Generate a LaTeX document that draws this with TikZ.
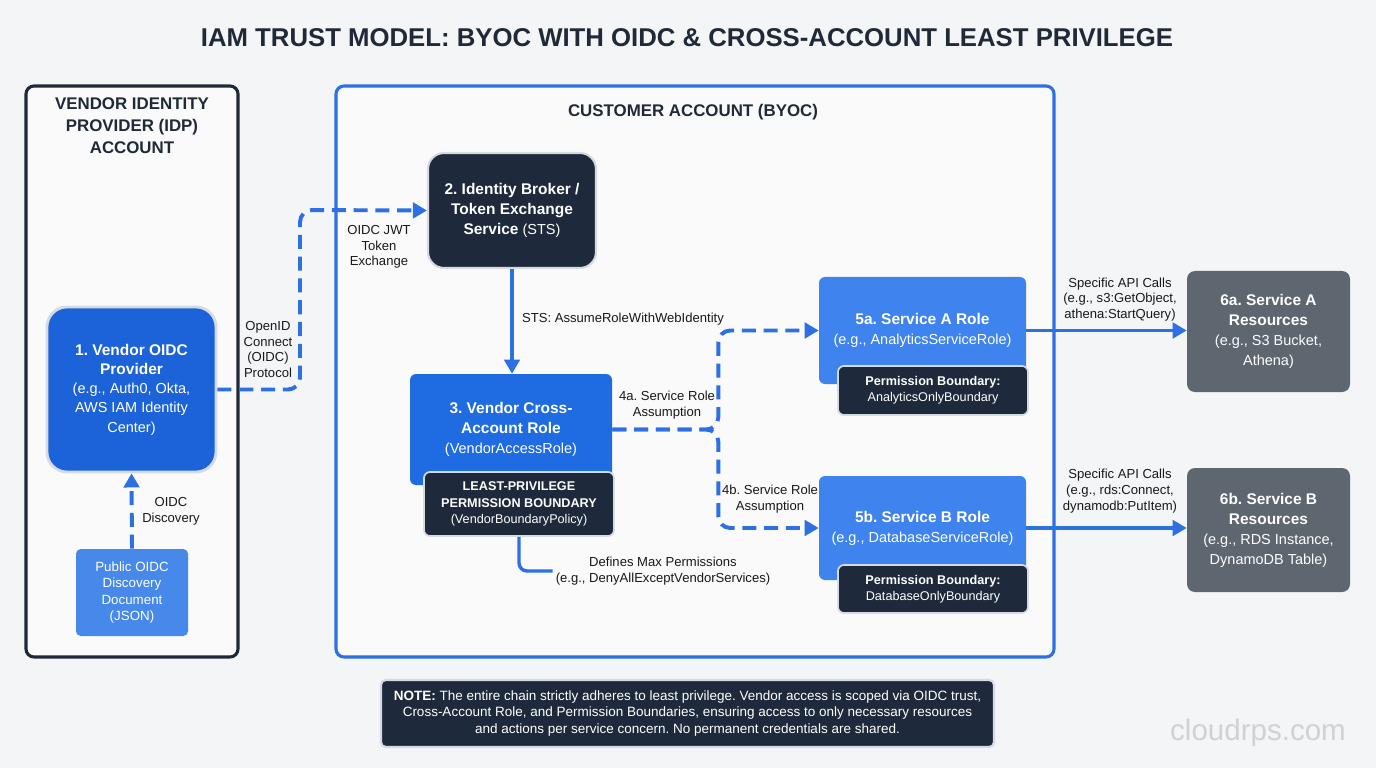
\documentclass[tikz,border=0pt]{standalone}
\usepackage{fontspec}
\setmainfont{Liberation Sans}
\usetikzlibrary{shapes, arrows.meta, calc, positioning}
\definecolor{bgGray}{HTML}{F3F5F7}
\definecolor{idpBlue}{HTML}{1C62D8}
\definecolor{roleBlue}{HTML}{1F6BE2}
\definecolor{svcBlue}{HTML}{3F84EE}
\definecolor{docBlue}{HTML}{4689EA}
\definecolor{navy}{HTML}{1E293B}
\definecolor{resGray}{HTML}{5E6670}
\definecolor{flowBlue}{HTML}{2C70E4}
\definecolor{edgeGray}{HTML}{D5DBE3}
\definecolor{inkDark}{HTML}{1F2937}
\frenchspacing
\newcommand{\pxu}{0.025cm}% one pixel of the layout
\newcommand{\hd}[1]{{\bfseries\fontsize{11}{13.7}\selectfont #1}}
\tikzset{
    >={Triangle[length=10pt,width=11pt]},
    wh/.style 2 args = {minimum width=#1*\pxu, minimum height=#2*\pxu},
    acct/.style = {draw, line width=2.2pt, rounded corners=0.2cm, fill=white!55!bgGray}, % account frames
    head/.style = {font=\bfseries\fontsize{12}{15.6}\selectfont, text=inkDark, align=center},
    box/.style = {inner sep=0pt, align=center, text=white, font=\fontsize{10.3}{13.7}\selectfont},
    idpnode/.style = {box, fill=idpBlue, draw=edgeGray, line width=2pt, rounded corners=0.5cm},
    broker/.style = {box, fill=navy, draw=edgeGray, line width=1.5pt, rounded corners=0.4cm,
                     font=\fontsize{10.3}{14.5}\selectfont},
    role/.style = {box, fill=roleBlue, rounded corners=0.15cm, font=\fontsize{10.3}{14.2}\selectfont},
    svc/.style = {box, fill=svcBlue, rounded corners=0.15cm, font=\fontsize{10.3}{14.2}\selectfont},
    bnd/.style = {box, fill=navy, draw=edgeGray, line width=1.2pt, rounded corners=0.15cm,
                  font=\fontsize{9}{11.6}\selectfont},
    res/.style = {box, fill=resGray, rounded corners=0.2cm, font=\fontsize{10.3}{14.2}\selectfont},
    docnode/.style = {box, fill=docBlue, rounded corners=0.12cm, font=\fontsize{9.5}{11.6}\selectfont},
    notebox/.style = {box, fill=navy, draw=edgeGray, line width=1.5pt, rounded corners=0.12cm,
                      font=\fontsize{9.6}{12}\selectfont},
    lbl/.style = {font=\fontsize{9.3}{11.2}\selectfont, align=center, text=black!90, inner sep=2pt},
    dflow/.style = {->, draw=flowBlue, line width=2.8pt, dash pattern=on 10pt off 5.5pt, rounded corners=0.3cm}, % dashed trust flow
    sflow/.style = {->, draw=flowBlue, line width=2.4pt}
}

\begin{document}
\begin{tikzpicture}[x=\pxu, y=-\pxu]
  \fill[bgGray] (0,0) rectangle (1376,768);
  \node[font=\bfseries\fontsize{18.3}{21}\selectfont, text=inkDark] (title) at (687,38)
    {IAM TRUST MODEL: BYOC WITH OIDC \& CROSS-ACCOUNT LEAST PRIVILEGE};

  % account frames
  \node[acct, draw=inkDark, wh={212}{571}] (idp) at (132,371.5) {};
  \node[acct, draw=flowBlue, wh={718}{571}] (cust) at (695,371.5) {};
  \node[head] (idpT) at (132,126) {VENDOR IDENTITY\\PROVIDER (IDP)\\ACCOUNT};
  \node[head] (custT) at (693,112) {CUSTOMER ACCOUNT (BYOC)};

  % edge labels
  \node[lbl] (oidcLbl) at (268,349.5) {OpenID\\Connect\\(OIDC)\\Protocol};
  \node[lbl] (jwtLbl) at (379,247) {OIDC JWT\\Token\\Exchange};
  \node[lbl] (discLbl) at (171,511) {OIDC\\Discovery};
  \node[lbl, anchor=west] (stsLbl) at (519,319) {STS: AssumeRoleWithWebIdentity};
  \node[lbl] (aLbl) at (667,405) {4a. Service Role\\Assumption};
  \node[lbl] (bLbl) at (770,499) {4b. Service Role\\Assumption};
  \node[lbl] (maxLbl) at (663,571) {Defines Max Permissions\\(e.g., DenyAllExceptVendorServices)};
  \node[lbl] (apiA) at (1120,299.5) {Specific API Calls\\(e.g., s3:GetObject,\\athena:StartQuery)};
  \node[lbl] (apiB) at (1120,491) {Specific API Calls\\(e.g., rds:Connect,\\dynamodb:PutItem)};

  % main nodes
  \node[idpnode, wh={169}{165}] (vop) at (131.5,389.5)
    {\hd{1. Vendor OIDC}\\\hd{Provider}\\(e.g., Auth0, Okta,\\AWS IAM Identity\\Center)};
  \node[docnode, wh={112}{87}] (disc) at (132,592.5) {Public OIDC\\Discovery\\Document\\(JSON)};
  \node[broker, wh={168}{115}] (sts) at (512,210.5)
    {\hd{2. Identity Broker /}\\\hd{Token Exchange}\\\hd{Service} (STS)};
  \node[role, wh={202}{111}] (xrole) at (511,429.5)
    {\hd{3. Vendor Cross-}\\\hd{Account Role}\\(VendorAccessRole)};
  \node[svc, wh={207}{107}] (roleA) at (922.5,330.5) {\hd{5a. Service A Role}\\(e.g., AnalyticsServiceRole)};
  \node[svc, wh={207}{104}] (roleB) at (922.5,528) {\hd{5b. Service B Role}\\(e.g., DatabaseServiceRole)};
  \node[res, wh={163}{121}] (resA) at (1268.5,331.5)
    {\hd{6a. Service A}\\\hd{Resources}\\(e.g., S3 Bucket,\\Athena)};
  \node[res, wh={163}{124}] (resB) at (1268.5,530)
    {\hd{6b. Service B}\\\hd{Resources}\\(e.g., RDS Instance,\\DynamoDB Table)};

  % boundaries
  \node[bnd, wh={190}{64}] (xbnd) at (519,504)
    {\textbf{LEAST-PRIVILEGE}\\\textbf{PERMISSION BOUNDARY}\\(VendorBoundaryPolicy)};
  \node[bnd, wh={190}{49}] (bndA) at (933,390.5) {\textbf{Permission Boundary:}\\AnalyticsOnlyBoundary};
  \node[bnd, wh={190}{48}] (bndB) at (933,589) {\textbf{Permission Boundary:}\\DatabaseOnlyBoundary};

  % connectors
  \coordinate (oidcBend) at (300,210);
  \coordinate (split) at ($(xrole.east)+(106,0)$);
  \draw[dflow] (vop.east) -| (oidcBend) -- (sts.west);
  \draw[dflow] (disc.north) -- (vop.south);
  \draw[sflow] (sts.south) -- (sts.south |- xrole.north);
  \draw[dflow] (xrole.east) -- (split) |- (roleA.west);
  \draw[dflow] (xrole.east) -- (split) |- (roleB.west);
  \draw[sflow] (roleA.east) -- (roleA.east -| resA.west);
  \draw[sflow] (roleB.east) -- (roleB.east -| resB.west);
  \draw[flowBlue, line width=2.4pt, rounded corners=0.2cm] (xbnd.south) |- (maxLbl.west);

  \node[notebox, wh={613}{67}] (note) at (687.5,713.5)
    {\textbf{NOTE:} The entire chain strictly adheres to least privilege. Vendor access is scoped via OIDC trust,\\
     Cross-Account Role, and Permission Boundaries, ensuring access to only necessary resources\\
     and actions per service concern. No permanent credentials are shared.};
  \node[text=black!18, font=\fontsize{21}{24}\selectfont] (wm) at (1258,733) {cloudrps.com};
\end{tikzpicture}
\end{document}
